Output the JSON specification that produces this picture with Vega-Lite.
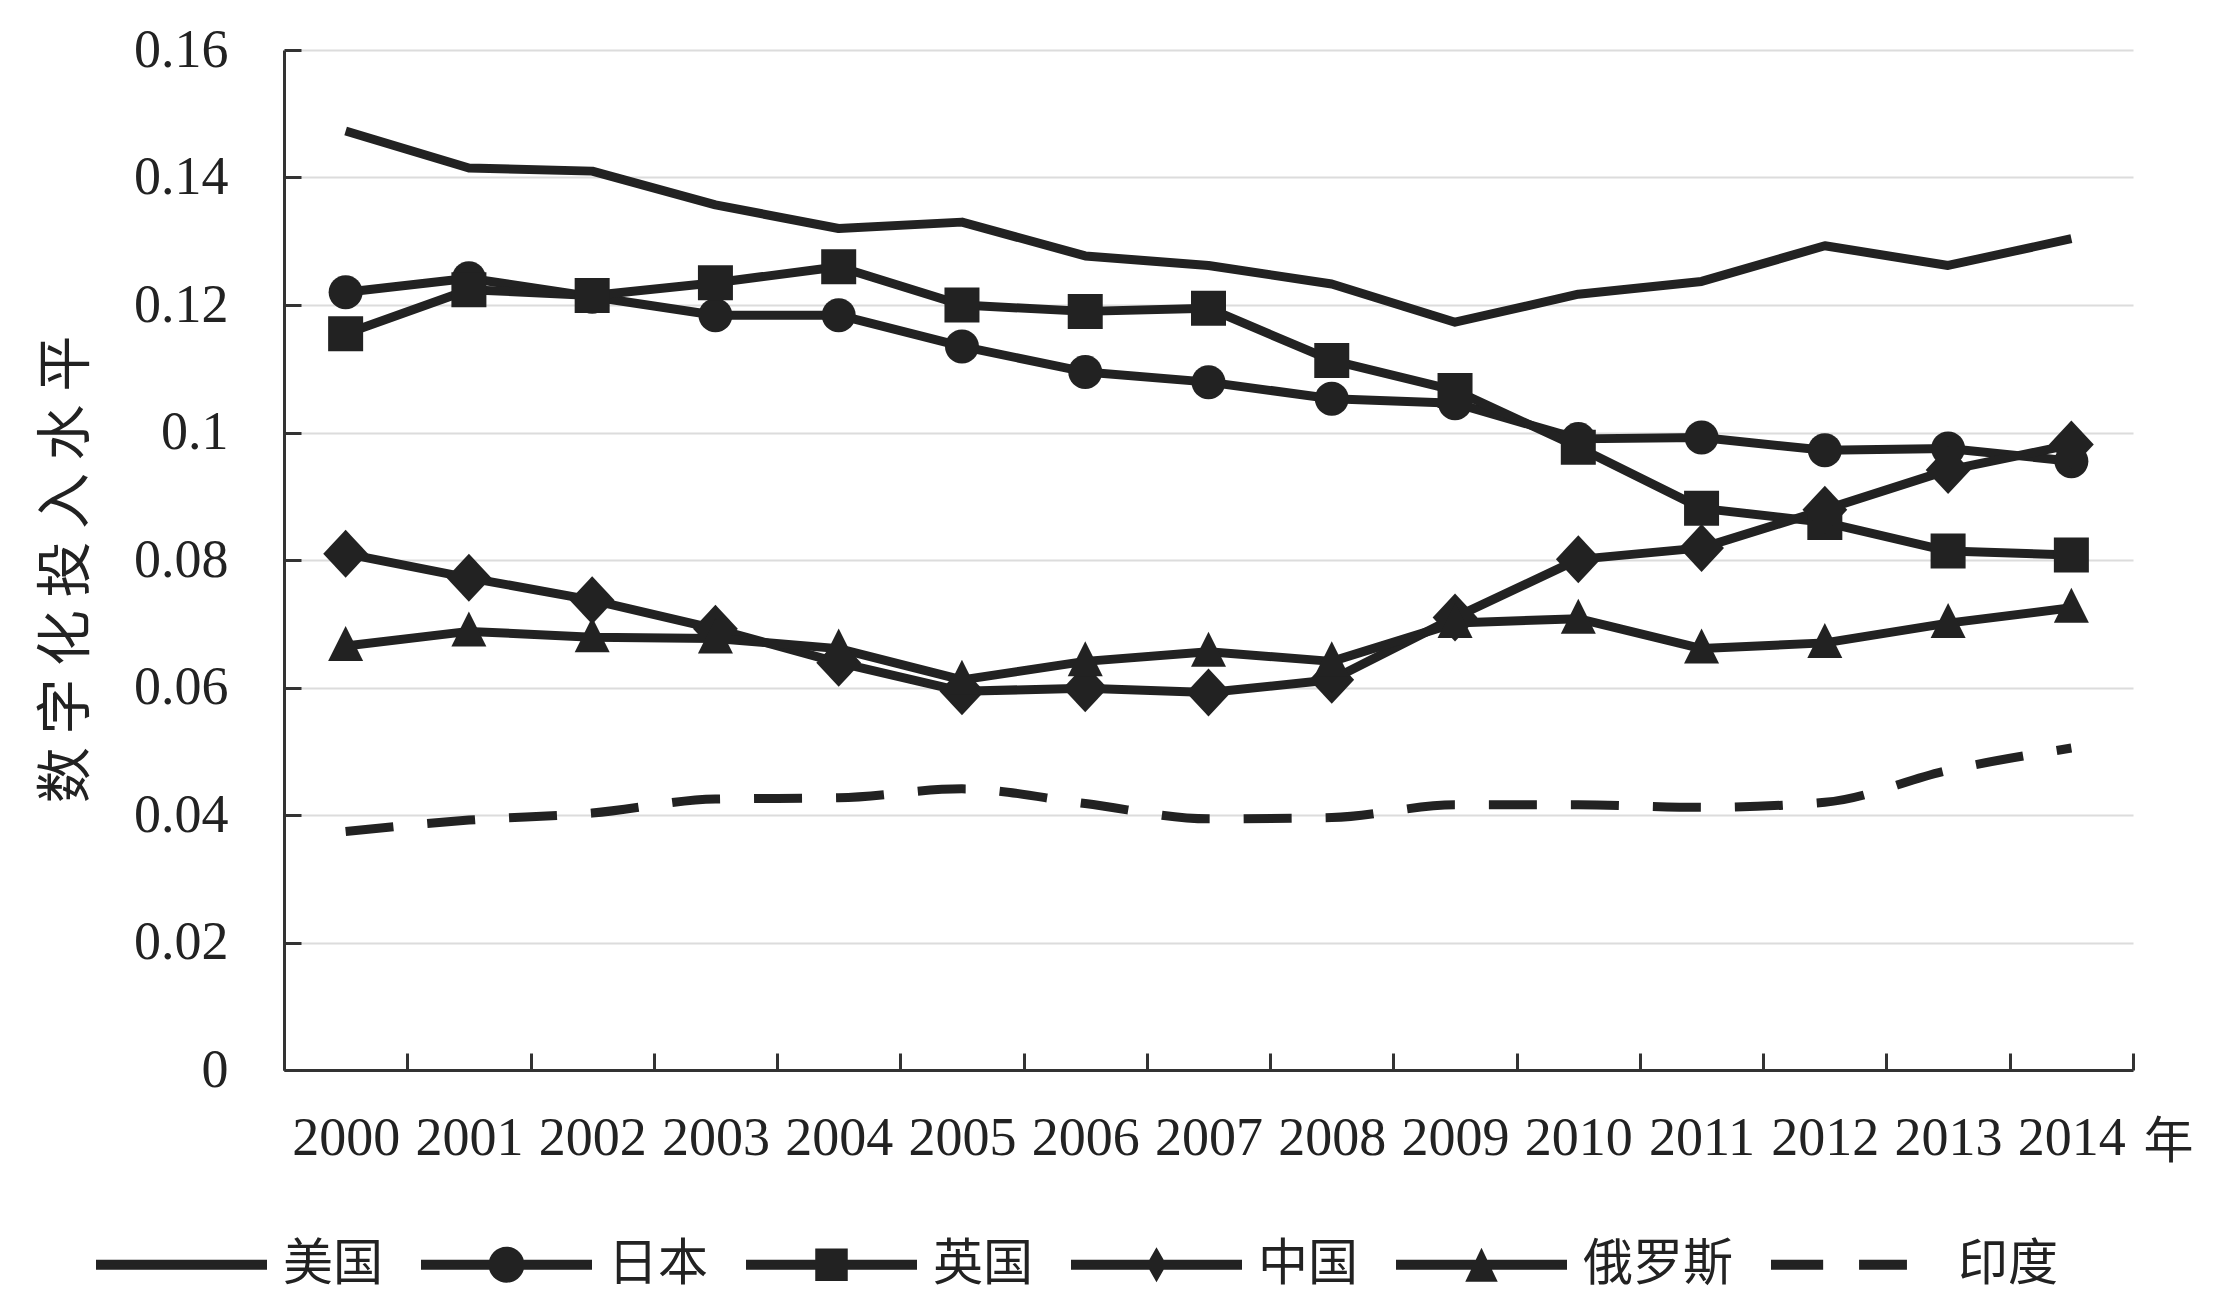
{
  "$schema": "https://vega.github.io/schema/vega-lite/v6.json",
  "width": 1849,
  "height": 1020,
  "autosize": {"type": "none"},
  "padding": {"left": 284, "top": 50, "right": 87, "bottom": 242},
  "background": "white",
  "config": {
    "view": {"stroke": null},
    "axis": {
      "labelFont": "Liberation Serif",
      "labelFontSize": 54,
      "labelColor": "#222",
      "domainColor": "#333",
      "domainWidth": 3,
      "tickColor": "#333",
      "tickWidth": 3,
      "tickSize": -17,
      "titleFont": "Noto Sans CJK SC",
      "titleFontSize": 50,
      "titleFontWeight": "normal",
      "titleColor": "#222"
    },
    "legend": {
      "labelFont": "Noto Sans CJK SC",
      "labelFontSize": 50,
      "labelColor": "#222"
    }
  },
  "data": {
    "values": [
      {"year": "2000", "country": "美国", "value": 0.1473},
      {"year": "2001", "country": "美国", "value": 0.1415},
      {"year": "2002", "country": "美国", "value": 0.141},
      {"year": "2003", "country": "美国", "value": 0.1357},
      {"year": "2004", "country": "美国", "value": 0.132},
      {"year": "2005", "country": "美国", "value": 0.133},
      {"year": "2006", "country": "美国", "value": 0.1277},
      {"year": "2007", "country": "美国", "value": 0.1262},
      {"year": "2008", "country": "美国", "value": 0.1233},
      {"year": "2009", "country": "美国", "value": 0.1173},
      {"year": "2010", "country": "美国", "value": 0.1217},
      {"year": "2011", "country": "美国", "value": 0.1237},
      {"year": "2012", "country": "美国", "value": 0.1293},
      {"year": "2013", "country": "美国", "value": 0.1262},
      {"year": "2014", "country": "美国", "value": 0.1304},
      {"year": "2000", "country": "日本", "value": 0.122},
      {"year": "2001", "country": "日本", "value": 0.1242},
      {"year": "2002", "country": "日本", "value": 0.1213},
      {"year": "2003", "country": "日本", "value": 0.1184},
      {"year": "2004", "country": "日本", "value": 0.1184},
      {"year": "2005", "country": "日本", "value": 0.1135},
      {"year": "2006", "country": "日本", "value": 0.1095},
      {"year": "2007", "country": "日本", "value": 0.1079},
      {"year": "2008", "country": "日本", "value": 0.1053},
      {"year": "2009", "country": "日本", "value": 0.1046},
      {"year": "2010", "country": "日本", "value": 0.099},
      {"year": "2011", "country": "日本", "value": 0.0992},
      {"year": "2012", "country": "日本", "value": 0.0972},
      {"year": "2013", "country": "日本", "value": 0.0975},
      {"year": "2014", "country": "日本", "value": 0.0955},
      {"year": "2000", "country": "英国", "value": 0.1155},
      {"year": "2001", "country": "英国", "value": 0.1224},
      {"year": "2002", "country": "英国", "value": 0.1215},
      {"year": "2003", "country": "英国", "value": 0.1235},
      {"year": "2004", "country": "英国", "value": 0.126},
      {"year": "2005", "country": "英国", "value": 0.12},
      {"year": "2006", "country": "英国", "value": 0.119},
      {"year": "2007", "country": "英国", "value": 0.1195},
      {"year": "2008", "country": "英国", "value": 0.1113},
      {"year": "2009", "country": "英国", "value": 0.1066},
      {"year": "2010", "country": "英国", "value": 0.0977},
      {"year": "2011", "country": "英国", "value": 0.0881},
      {"year": "2012", "country": "英国", "value": 0.0859},
      {"year": "2013", "country": "英国", "value": 0.0814},
      {"year": "2014", "country": "英国", "value": 0.0808},
      {"year": "2000", "country": "中国", "value": 0.081},
      {"year": "2001", "country": "中国", "value": 0.0772},
      {"year": "2002", "country": "中国", "value": 0.0737},
      {"year": "2003", "country": "中国", "value": 0.0692},
      {"year": "2004", "country": "中国", "value": 0.0639},
      {"year": "2005", "country": "中国", "value": 0.0594},
      {"year": "2006", "country": "中国", "value": 0.0599},
      {"year": "2007", "country": "中国", "value": 0.0592},
      {"year": "2008", "country": "中国", "value": 0.0612},
      {"year": "2009", "country": "中国", "value": 0.071},
      {"year": "2010", "country": "中国", "value": 0.0801},
      {"year": "2011", "country": "中国", "value": 0.0819},
      {"year": "2012", "country": "中国", "value": 0.0879},
      {"year": "2013", "country": "中国", "value": 0.0941},
      {"year": "2014", "country": "中国", "value": 0.0981},
      {"year": "2000", "country": "俄罗斯", "value": 0.0665},
      {"year": "2001", "country": "俄罗斯", "value": 0.0688},
      {"year": "2002", "country": "俄罗斯", "value": 0.0679},
      {"year": "2003", "country": "俄罗斯", "value": 0.0677},
      {"year": "2004", "country": "俄罗斯", "value": 0.0661},
      {"year": "2005", "country": "俄罗斯", "value": 0.0612},
      {"year": "2006", "country": "俄罗斯", "value": 0.0641},
      {"year": "2007", "country": "俄罗斯", "value": 0.0656},
      {"year": "2008", "country": "俄罗斯", "value": 0.0641},
      {"year": "2009", "country": "俄罗斯", "value": 0.0701},
      {"year": "2010", "country": "俄罗斯", "value": 0.0708},
      {"year": "2011", "country": "俄罗斯", "value": 0.0661},
      {"year": "2012", "country": "俄罗斯", "value": 0.067},
      {"year": "2013", "country": "俄罗斯", "value": 0.0701},
      {"year": "2014", "country": "俄罗斯", "value": 0.0725},
      {"year": "2000", "country": "印度", "value": 0.0374},
      {"year": "2001", "country": "印度", "value": 0.0392},
      {"year": "2002", "country": "印度", "value": 0.0403},
      {"year": "2003", "country": "印度", "value": 0.0425},
      {"year": "2004", "country": "印度", "value": 0.0427},
      {"year": "2005", "country": "印度", "value": 0.0441},
      {"year": "2006", "country": "印度", "value": 0.0418},
      {"year": "2007", "country": "印度", "value": 0.0394},
      {"year": "2008", "country": "印度", "value": 0.0396},
      {"year": "2009", "country": "印度", "value": 0.0416},
      {"year": "2010", "country": "印度", "value": 0.0416},
      {"year": "2011", "country": "印度", "value": 0.0412},
      {"year": "2012", "country": "印度", "value": 0.042},
      {"year": "2013", "country": "印度", "value": 0.047},
      {"year": "2014", "country": "印度", "value": 0.0505}
    ]
  },
  "encoding": {
    "x": {
      "field": "year",
      "type": "ordinal",
      "bandPosition": 0.5,
      "scale": {"type": "band", "paddingInner": 0, "paddingOuter": 0},
      "axis": {
        "labelAngle": 0,
        "labelPadding": 58,
        "tickBand": "extent",
        "grid": false,
        "title": "年",
        "titleAngle": 0,
        "titleAlign": "center",
        "titleBaseline": "middle",
        "titleX": 1884,
        "titleY": 72
      }
    },
    "y": {
      "field": "value",
      "type": "quantitative",
      "scale": {"domain": [0, 0.16], "nice": false, "zero": true},
      "axis": {
        "values": [0, 0.02, 0.04, 0.06, 0.08, 0.1, 0.12, 0.14, 0.16],
        "format": "~g",
        "labelPadding": 73,
        "grid": true,
        "gridColor": "#dcdcdc",
        "gridWidth": 2,
        "title": "数 字 化 投 入 水 平",
        "titleFontSize": 56,
        "titleAngle": -90,
        "titleAlign": "center",
        "titleBaseline": "middle",
        "titleX": -218,
        "titleY": 519
      }
    }
  },
  "layer": [
    {
      "transform": [{"filter": "datum.country !== '印度'"}],
      "mark": {"type": "line", "interpolate": "linear", "strokeWidth": 9, "color": "#222", "strokeJoin": "round"},
      "encoding": {
        "detail": {"field": "country", "type": "nominal"}
      }
    },
    {
      "transform": [{"filter": "datum.country === '印度'"}],
      "mark": {"type": "line", "interpolate": "monotone", "strokeWidth": 9, "color": "#222", "strokeDash": [48, 34]},
      "encoding": {}
    },
    {
      "transform": [{"filter": "datum.country !== '美国' && datum.country !== '印度'"}],
      "mark": {"type": "point", "filled": true, "size": 1600, "color": "#222", "strokeWidth": 0, "opacity": 1},
      "encoding": {
        "shape": {
          "field": "country",
          "type": "nominal",
          "scale": {
            "domain": ["日本", "英国", "中国", "俄罗斯"],
            "range": [
              "M-0.85,0A0.85,0.85 0 1,1 0.85,0A0.85,0.85 0 1,1 -0.85,0Z",
              "M-0.875,-0.875H0.875V0.875H-0.875Z",
              "M0,-1.2L1.12,0L0,1.2L-1.12,0Z",
              "M0,-1L0.875,0.75H-0.875Z"
            ]
          },
          "legend": null
        }
      }
    },
    {
      "mark": {"type": "point", "filled": true, "color": "#222", "opacity": 0},
      "encoding": {
        "shape": {
          "field": "country",
          "type": "nominal",
          "scale": {
            "domain": ["美国", "日本", "英国", "中国", "俄罗斯", "印度"],
            "range": [
              "M-1,-0.058H1V0.058H-1Z",
              "M-1,-0.058H1V0.058H-1Z M-0.21,0A0.21,0.21 0 1,1 0.21,0A0.21,0.21 0 1,1 -0.21,0Z",
              "M-1,-0.058H1V0.058H-1Z M-0.19,-0.19H0.19V0.19H-0.19Z",
              "M-1,-0.058H1V0.058H-1Z M0,-0.205L0.117,0L0,0.205L-0.117,0Z",
              "M-1,-0.058H1V0.058H-1Z M0,-0.2L0.19,0.2H-0.19Z",
              "M-1,-0.058H-0.39V0.058H-1Z M0.03,-0.058H0.59V0.058H0.03Z"
            ]
          },
          "legend": {
            "title": null,
            "orient": "none",
            "direction": "horizontal",
            "legendX": -188,
            "legendY": 1129,
            "symbolSize": 29241,
            "symbolOpacity": 1,
            "symbolFillColor": "#222",
            "symbolStrokeWidth": 0,
            "labelOffset": 16,
            "columnPadding": 38
          }
        }
      }
    }
  ],
  "resolve": {"scale": {"shape": "independent"}, "legend": {"shape": "independent"}}
}
